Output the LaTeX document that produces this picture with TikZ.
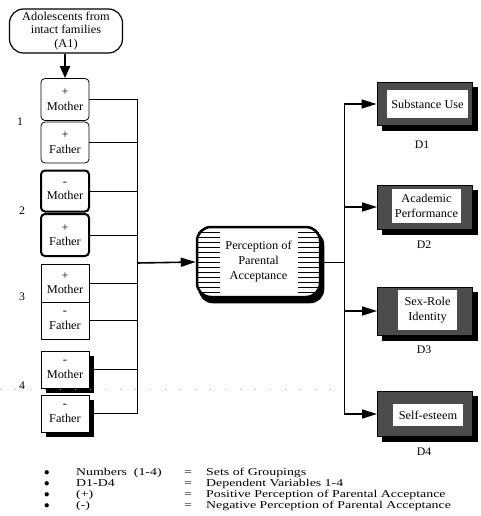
\documentclass[tikz,border=0pt]{standalone}
\usepackage{fontspec}
\setmainfont{Liberation Serif}[FakeStretch=1.03]
\newfontfamily\legendfont{Liberation Serif}[FakeStretch=1.32]
\usetikzlibrary{arrows.meta,backgrounds}

\begin{document}
\begin{tikzpicture}[x=1pt,y=-1pt,
  every node/.style={font=\fontsize{12}{14.5}\selectfont, align=center, inner sep=0pt},
  grpbox/.style={draw, line width=0.8pt, minimum width=48pt, fill=white},
  rnd/.style={grpbox, rounded corners=4pt},
  rndthick/.style={grpbox, rounded corners=4pt, line width=2pt},
  sqr/.style={grpbox},
  link/.style={line width=1pt},
  arr/.style={line width=1.6pt, -{Triangle[length=15pt,width=9pt]}},
  dep/.style={draw, line width=1pt, fill=black!70, minimum width=95pt},
  deptext/.style={fill=white},
  lbl/.style={font=\fontsize{11.5}{13}\selectfont},
  legend/.style={font=\legendfont\fontsize{10.5}{12}\selectfont, anchor=base west},
  shadowfill/.style={fill=black},
]
\useasboundingbox (0,0) rectangle (481,516);

% faint dotted guide line
\draw[black!35, line width=0.8pt, dash pattern=on 1pt off 14pt] (0,389) -- (335,389);

% source group
\node[draw, line width=1.2pt, rounded corners=14pt, minimum width=113pt, minimum height=44pt, fill=white,
  font=\fontsize{12}{13.5}\selectfont]
  (A1) at (66,31) {Adolescents from\\intact families\\(A1)};

% parent perception boxes
\node[rnd, minimum height=42pt] (M1) at (65,99.5) {+\\Mother};
\node[rnd, minimum height=41pt] (F1) at (65,142.5) {+\\Father};
\node[rndthick, minimum height=41pt] (M2) at (65,191) {-\\Mother};
\node[rndthick, minimum height=42pt] (F2) at (65,235) {+\\Father};
\node[sqr, minimum height=38pt] (M3) at (65,283) {+\\Mother};
\node[sqr, minimum height=37pt] (F3) at (65,320.5) {-\\Father};
\node[sqr, minimum height=37pt] (M4) at (65,369.5) {-\\Mother};
\node[sqr, minimum height=37pt] (F4) at (65,413.5) {-\\Father};

% group numbers
\node[lbl] (n1) at (20,122) {1};
\node[lbl] (n2) at (22,211) {2};
\node[lbl] (n3) at (22,297) {3};
\node[lbl] (n4) at (22,386) {4};

\draw[line width=2.2pt, -{Triangle[length=12pt,width=10pt]}] (A1.south -| M1.north) -- (M1.north);

% left collector bus
\coordinate (busL) at (137,263);
\foreach \b in {M1,F1,M2,F2,M3,F3,M4,F4} {
  \draw[link] (\b.east) -- (\b.east -| busL);
}
\draw[link] (M1.east -| busL) -- (F4.east -| busL);

% central construct
\node[draw, line width=2.5pt, rounded corners=14pt, minimum width=123pt, minimum height=70pt, fill=white]
  (P) at (258.5,262) {};
\begin{scope}
  \clip[rounded corners=14pt] (P.south west) rectangle (P.north east);
  \foreach \yy in {232,237,...,292} {
    \draw[line width=1pt] (197,\yy) -- (220,\yy);
    \draw[line width=1pt] (298,\yy) -- (320,\yy);
  }
\end{scope}
\node[fill=white, inner sep=2pt, font=\fontsize{12}{15}\selectfont] (Pt) at (P.center) {Perception of\\Parental\\Acceptance};

\draw[arr] (busL) -- (P.west);

% right distribution bus
\coordinate (busR) at (344,262);
\draw[link] (P.east) -- (busR);

% dependent variables
\node[dep, minimum height=43pt] (D1) at (424.5,104) {};
\node[deptext, minimum width=81pt, minimum height=28pt] (D1t) at (427.5,104) {Substance Use};
\node[dep, minimum height=44pt] (D2) at (425,207) {};
\node[deptext, minimum width=69pt, minimum height=34pt] (D2t) at (426.5,206) {Academic\\Performance};
\node[dep, minimum height=48pt] (D3) at (425,311) {};
\node[deptext, minimum width=59pt, minimum height=40pt] (D3t) at (427.5,310) {Sex-Role\\Identity};
\node[dep, minimum height=45pt] (D4) at (425,414) {};
\node[deptext, minimum width=70pt, minimum height=22pt] (D4t) at (428,415) {Self-esteem};

\node[lbl] (d1) at (422,145) {D1};
\node[lbl] (d2) at (424,245) {D2};
\node[lbl] (d3) at (424,350) {D3};
\node[lbl] (d4) at (424,452) {D4};

\draw[link] (D1.west -| busR) -- (D4.west -| busR);
\foreach \d in {D1,D2,D3,D4} {
  \draw[arr] (\d.west -| busR) -- (\d.west);
}

% solid black drop shadows, behind everything
\begin{scope}[on background layer]
  \fill[white] (0,0) rectangle (481,516);
  \foreach \s in {M4,F4,D1,D2,D3,D4} {
    \fill[shadowfill] ([shift={(5,5)}]\s.north west) rectangle ([shift={(5,5)}]\s.south east);
  }
  \fill[shadowfill, rounded corners=14pt] ([shift={(3,5)}]P.north west) rectangle ([shift={(3,5)}]P.south east);
\end{scope}

% legend
\foreach \yy/\ka/\kb [count=\i] in {475/{Numbers\ \ (1-4)}/Sets of Groupings,
                         486/D1-D4/Dependent Variables 1-4,
                         497/(+)/Positive Perception of Parental Acceptance,
                         508/(-)/Negative Perception of Parental Acceptance} {
  \node[legend] (b\i) at (44,\yy) {$\bullet$};
  \node[legend] (k\i) at (76,\yy) {\ka};
  \node[legend] (e\i) at (184,\yy) {=};
  \node[legend] (v\i) at (206,\yy) {\kb};
}
\end{tikzpicture}
\end{document}
